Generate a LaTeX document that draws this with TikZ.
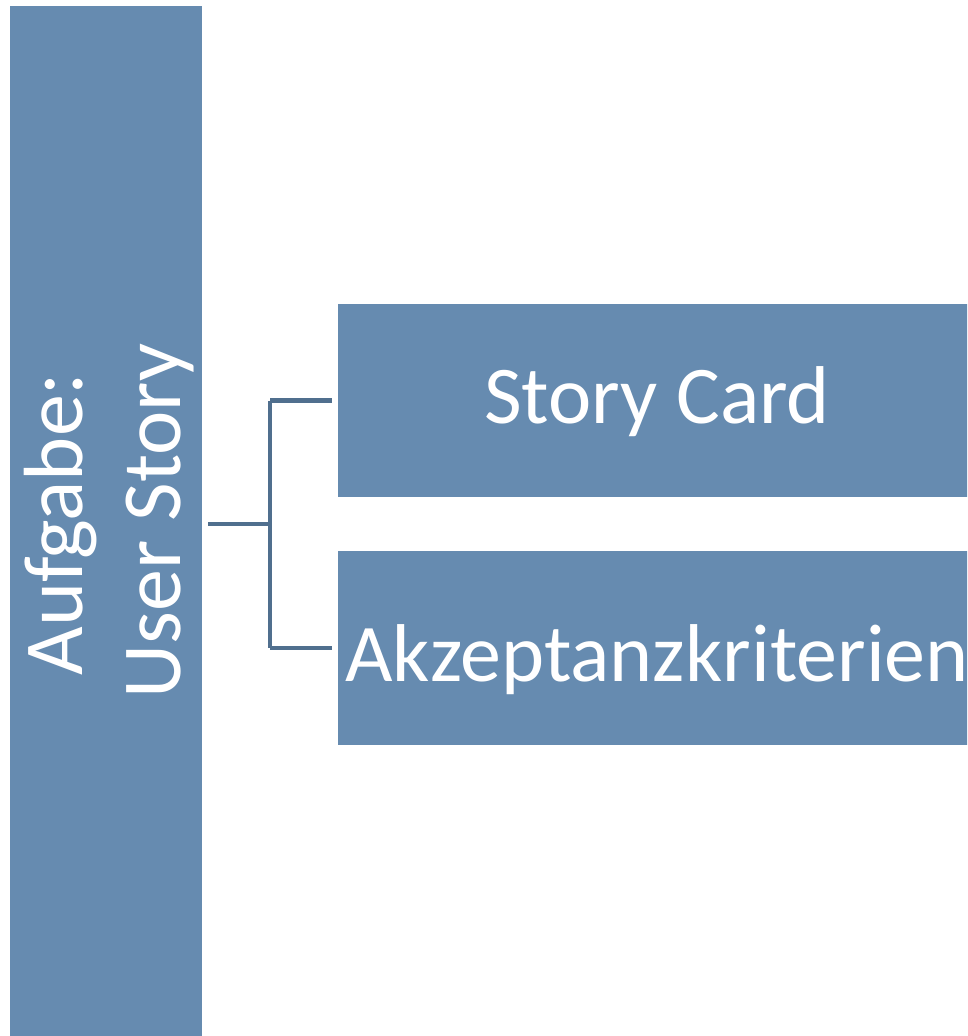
\documentclass[tikz,border=0pt]{standalone}
\usepackage{fontspec}
\setmainfont{Carlito}
\definecolor{boxblue}{RGB}{102,139,176}
\definecolor{lineblue}{RGB}{80,111,142}
\begin{document}
\begin{tikzpicture}[x=1pt,y=-1pt,
  blockbox/.style={fill=boxblue,draw=none,inner sep=0pt,outer sep=0pt},
  lbl/.style={text=white,inner sep=0pt,anchor=base},
  conn/.style={draw=lineblue,line width=4.5pt,line join=round}]
\clip (0,0) rectangle (967,1036);
\fill[white] (0,0) rectangle (967,1036);
\node[blockbox,minimum width=192pt,minimum height=1030pt] (bar) at (106,521) {};
\node[blockbox,minimum width=638pt,minimum height=193pt] (sc) at (657,400.5) {};
\node[blockbox,minimum width=638pt,minimum height=194pt] (ak) at (657,648) {};
\node[lbl,rotate=90,font=\fontsize{84}{100}\selectfont] (t1) at (82,524) {Aufgabe:};
\node[lbl,rotate=90,font=\fontsize{84}{100}\selectfont] (t2) at (180,521) {User Story};
\node[lbl,font=\fontsize{82}{98}\selectfont] (t3) at (657,423) {Story Card};
\node[lbl,font=\fontsize{82}{98}\selectfont] (t4) at (657,681) {Akzeptanzkriterien};
\coordinate (j) at (270,524);
\draw[conn] ([xshift=6pt,yshift=-3pt]bar.east) -- (j);
\draw[conn] (j |- sc.west) -- (j |- ak.west);
\draw[conn] (j |- sc.west) -- ([xshift=-6pt]sc.west);
\draw[conn] (j |- ak.west) -- ([xshift=-6pt]ak.west);
\end{tikzpicture}
\end{document}
